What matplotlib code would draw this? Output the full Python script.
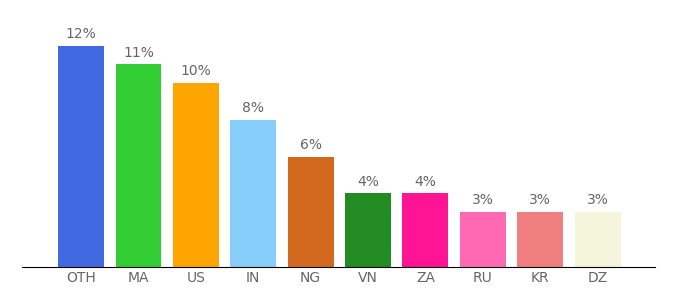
import matplotlib.pyplot as plt

countries = ["OTH", "MA", "US", "IN", "NG", "VN", "ZA", "RU", "KR", "DZ"]
shares = [12, 11, 10, 8, 6, 4, 4, 3, 3, 3]
colors = ["#4169E1", "#32CD32", "#FFA500", "#87CEFA", "#D2691E",
          "#228B22", "#FF1493", "#FF69B4", "#F08080", "#F5F5DC"]

fig = plt.figure(figsize=(6.8, 3.0), dpi=100)
ax = fig.add_axes([22 / 680, 33 / 300, 633 / 680, 237 / 300])

x = range(len(countries))
ax.bar(x, shares, width=0.8, color=colors)
for i, v in zip(x, shares):
    ax.text(i, v + 0.25, f"{v}%", ha="center", va="bottom", fontsize=10, color="#666666")

ax.set_xlim(-1.03, 10.0)
ax.set_ylim(0, 12 * 237 / 221)
ax.set_xticks(list(x))
ax.set_xticklabels(countries, fontsize=10, color="#666666")
ax.set_yticks([])
for side in ["top", "right", "left"]:
    ax.spines[side].set_visible(False)
ax.spines["bottom"].set_color("#000000")
ax.tick_params(axis="x", length=0, pad=3)

fig.savefig("out.png")
